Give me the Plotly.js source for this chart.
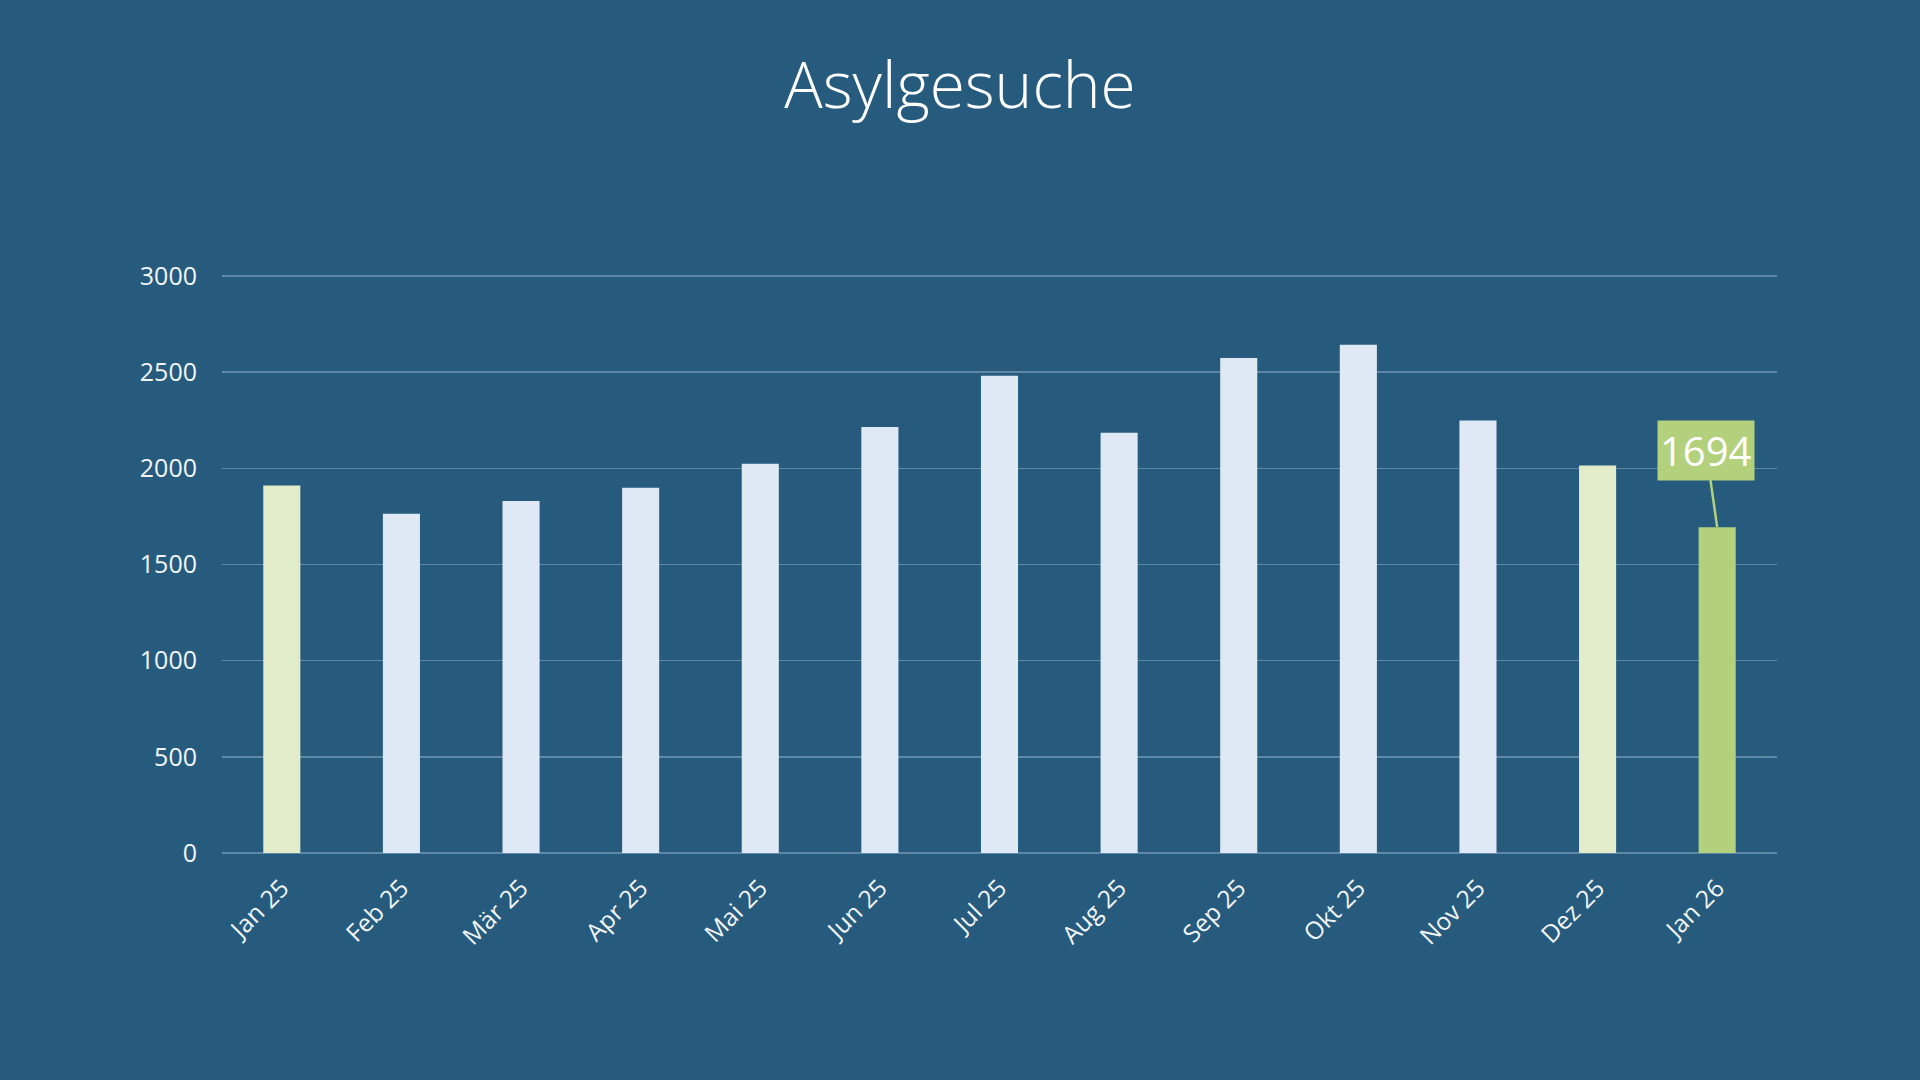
<!DOCTYPE html>
<html>
<head>
<meta charset="utf-8">
<script src="https://cdn.plot.ly/plotly-3.0.1.min.js"></script>
<style>
  html, body { margin: 0; padding: 0; background: #265b7e; }
  #chart { width: 1920px; height: 1080px; }
</style>
</head>
<body>
<div id="chart"></div>
<script>
const months = ["Jan 25", "Feb 25", "Mär 25", "Apr 25", "Mai 25", "Jun 25", "Jul 25",
                "Aug 25", "Sep 25", "Okt 25", "Nov 25", "Dez 25", "Jan 26"];
const asylgesuche = [1910, 1764, 1830, 1899, 2024, 2214, 2481, 2185, 2573, 2642, 2249, 2015, 1694];
const yTicks = [0, 500, 1000, 1500, 2000, 2500, 3000];

const BG = "#265b7e";
const LIGHT = "#dfe9f5";
const PALE_GREEN = "#e2ecca";
const GREEN = "#b3d07d";
const barColors = months.map((m, i) =>
  i === months.length - 1 ? GREEN : (i === 0 || i === months.length - 2 ? PALE_GREEN : LIGHT));

const lastIdx = months.length - 1;

const trace = {
  type: "bar",
  x: months,
  y: asylgesuche,
  marker: { color: barColors, line: { width: 0 } },
  hoverinfo: "x+y"
};

const layout = {
  width: 1920,
  height: 1080,
  paper_bgcolor: BG,
  plot_bgcolor: BG,
  margin: { l: 222, r: 143, t: 274, b: 227 },
  bargap: 0.69,
  showlegend: false,
  font: { family: "Open Sans, Noto Sans, sans-serif", color: "#f2f5f8" },
  title: {
    text: "Asylgesuche",
    font: { family: "Open Sans, sans-serif", size: 64, color: "#ffffff", weight: 300 },
    x: 0.5, xanchor: "center",
    y: 1 - 86 / 1080, yref: "container", yanchor: "middle"
  },
  xaxis: {
    type: "category",
    range: [-0.5, months.length - 0.5],
    tickangle: -45,
    tickfont: { size: 24.5, color: "#f2f5f8" },
    showgrid: false,
    showline: false,
    zeroline: false,
    ticks: "",
    ticklabelstandoff: 15,
    fixedrange: true
  },
  yaxis: {
    range: [0, 3010],
    tickvals: yTicks,
    ticktext: yTicks.map(String),
    tickfont: { size: 25, color: "#f2f5f8" },
    showgrid: true,
    gridcolor: "#5f87a8",
    gridwidth: 1.5,
    zeroline: true,
    zerolinecolor: "#5f87a8",
    zerolinewidth: 1.5,
    showline: false,
    ticks: "",
    ticklabelstandoff: 24,
    fixedrange: true
  },
  annotations: [{
    x: months[lastIdx],
    y: asylgesuche[lastIdx],
    xref: "x", yref: "y",
    text: String(asylgesuche[lastIdx]),
    showarrow: true,
    arrowhead: 0,
    arrowwidth: 2.5,
    arrowcolor: GREEN,
    ax: -11,
    ay: -77,
    bgcolor: GREEN,
    borderpad: 2,
    font: { family: "Open Sans, sans-serif", size: 40, color: "#ffffff" }
  }]
};

Plotly.newPlot("chart", [trace], layout, { displayModeBar: false, staticPlot: true });
</script>
</body>
</html>
